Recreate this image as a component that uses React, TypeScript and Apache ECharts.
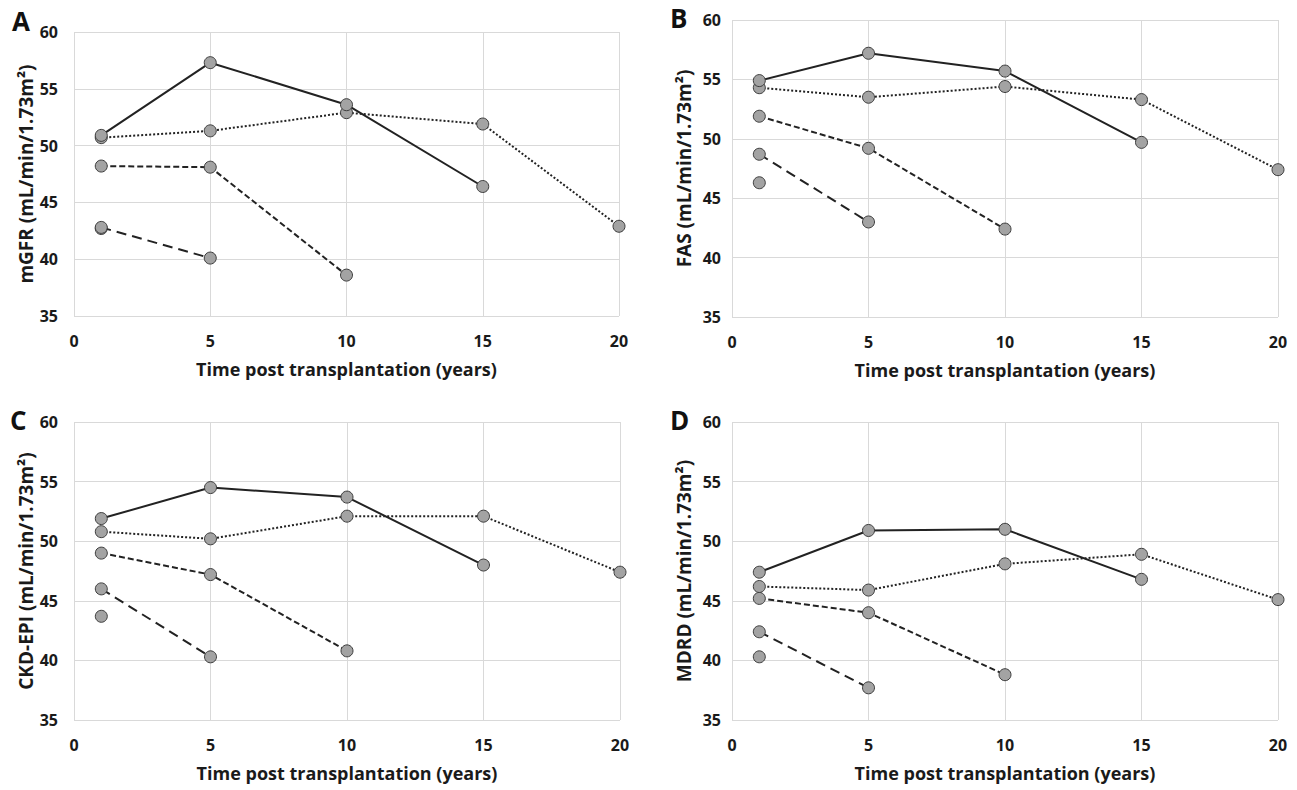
import React, { useEffect, useRef } from "react";
import * as echarts from "echarts";

// ---- data ----
const yearsSolid = [1, 5, 10, 15];
const yearsDotted = [1, 5, 10, 15, 20];
const yearsDashed = [1, 5, 10];
const yearsLongDash = [1, 5];
const yearsSingle = [1];

const xTicks = [0, 5, 10, 15, 20];
const yTicks = [35, 40, 45, 50, 55, 60];

const panelLetters = ["A", "B", "C", "D"];
const yTitles = [
  "mGFR (mL/min/1.73m²)",
  "FAS (mL/min/1.73m²)",
  "CKD-EPI (mL/min/1.73m²)",
  "MDRD (mL/min/1.73m²)",
];
const xTitle = "Time post transplantation (years)";

// Panel A: mGFR
const mgfrSolid = [50.9, 57.3, 53.6, 46.4];
const mgfrDotted = [50.7, 51.3, 52.9, 51.9, 42.9];
const mgfrDashed = [48.2, 48.1, 38.6];
const mgfrLongDash = [42.8, 40.1];
const mgfrSingle = [42.7];

// Panel B: FAS
const fasSolid = [54.9, 57.2, 55.7, 49.7];
const fasDotted = [54.3, 53.5, 54.4, 53.3, 47.4];
const fasDashed = [51.9, 49.2, 42.4];
const fasLongDash = [48.7, 43.0];
const fasSingle = [46.3];

// Panel C: CKD-EPI
const ckdSolid = [51.9, 54.5, 53.7, 48.0];
const ckdDotted = [50.8, 50.2, 52.1, 52.1, 47.4];
const ckdDashed = [49.0, 47.2, 40.8];
const ckdLongDash = [46.0, 40.3];
const ckdSingle = [43.7];

// Panel D: MDRD
const mdrdSolid = [47.4, 50.9, 51.0, 46.8];
const mdrdDotted = [46.2, 45.9, 48.1, 48.9, 45.1];
const mdrdDashed = [45.2, 44.0, 38.8];
const mdrdLongDash = [42.4, 37.7];
const mdrdSingle = [40.3];

const panels = [
  [mgfrSolid, mgfrDotted, mgfrDashed, mgfrLongDash, mgfrSingle],
  [fasSolid, fasDotted, fasDashed, fasLongDash, fasSingle],
  [ckdSolid, ckdDotted, ckdDashed, ckdLongDash, ckdSingle],
  [mdrdSolid, mdrdDotted, mdrdDashed, mdrdLongDash, mdrdSingle],
];
const seriesYears = [yearsSolid, yearsDotted, yearsDashed, yearsLongDash, yearsSingle];

// ---- layout / style ----
const grids = [
  { left: 74, top: 32, width: 545, height: 284 },
  { left: 732, top: 20, width: 546, height: 297 },
  { left: 74, top: 422, width: 546, height: 298 },
  { left: 732, top: 422, width: 546, height: 298 },
];
const labelMargins = [16, 11, 16, 11];
const letterPos = [
  { x: 12, y: 8 },
  { x: 670, y: 5 },
  { x: 10, y: 407 },
  { x: 670, y: 407 },
];
const lineTypes: any[] = ["solid", [2, 2], [6, 3], [10, 6], "solid"];
const FONT = "'Open Sans', 'DejaVu Sans', sans-serif";
const TEXT = "#1a1a1a";
const GRIDC = "#d9d9d9";

export default function App() {
  const ref = useRef<HTMLDivElement>(null);
  useEffect(() => {
    if (!ref.current) return;
    const chart = echarts.init(ref.current, undefined, { renderer: "svg" });
    const xAxes = grids.map((_, i) => ({
      type: "value",
      gridIndex: i,
      min: xTicks[0],
      max: xTicks[xTicks.length - 1],
      interval: xTicks[1] - xTicks[0],
      axisLine: { show: false },
      axisTick: { show: false },
      splitLine: { show: true, lineStyle: { color: GRIDC, width: 1 } },
      axisLabel: {
        fontSize: 16,
        fontWeight: "bold",
        fontFamily: FONT,
        color: TEXT,
        margin: 17,
      },
      name: xTitle,
      nameLocation: "middle",
      nameGap: 44,
      nameTextStyle: { fontSize: 18, fontWeight: "bold", fontFamily: FONT, color: TEXT },
    }));
    const yAxes = grids.map((_, i) => ({
      type: "value",
      gridIndex: i,
      min: yTicks[0],
      max: yTicks[yTicks.length - 1],
      interval: yTicks[1] - yTicks[0],
      axisLine: { show: false },
      axisTick: { show: false },
      splitLine: { show: true, lineStyle: { color: GRIDC, width: 1 } },
      axisLabel: {
        fontSize: 16,
        fontWeight: "bold",
        fontFamily: FONT,
        color: TEXT,
        margin: labelMargins[i],
      },
      name: yTitles[i],
      nameLocation: "middle",
      nameGap: 39,
      nameTextStyle: { fontSize: 19, fontWeight: "bold", fontFamily: FONT, color: TEXT },
    }));
    const series: any[] = [];
    panels.forEach((panel, pi) => {
      panel.forEach((vals, si) => {
        const yrs = seriesYears[si];
        series.push({
          type: "line",
          xAxisIndex: pi,
          yAxisIndex: pi,
          data: vals.map((v, k) => [yrs[k], v]),
          symbol: "circle",
          symbolSize: 12,
          showSymbol: true,
          z: 5 - si,
          itemStyle: { color: "#a3a3a3", borderColor: "#3c3c3c", borderWidth: 1 },
          lineStyle: { color: "#222222", width: 2, type: lineTypes[si] },
          emphasis: { disabled: true },
        });
      });
    });
    chart.setOption({
      animation: false,
      backgroundColor: "#ffffff",
      grid: grids.map((g) => ({ ...g, containLabel: false })),
      xAxis: xAxes,
      yAxis: yAxes,
      series,
      graphic: panelLetters.map((t, i) => ({
        type: "text",
        left: letterPos[i].x,
        top: letterPos[i].y,
        style: {
          text: t,
          fontSize: 26,
          fontWeight: "bold",
          fontFamily: FONT,
          fill: "#111",
        },
      })),
    });
    return () => chart.dispose();
  }, []);
  return (
    <div
      ref={ref}
      style={{ position: "fixed", left: 0, top: 0, width: 1297, height: 790, background: "#fff" }}
    />
  );
}
